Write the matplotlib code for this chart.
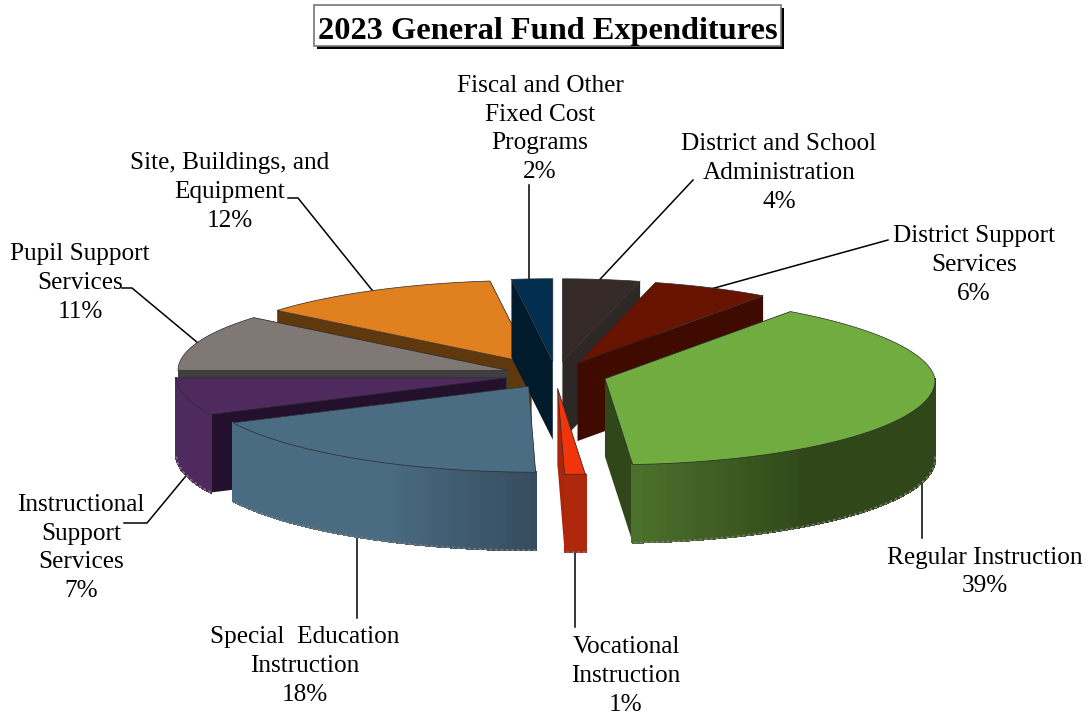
import numpy as np
import matplotlib
matplotlib.use("Agg")
import matplotlib.pyplot as plt
from matplotlib.collections import PolyCollection
from matplotlib.colors import to_rgb
from matplotlib.patches import Polygon, Rectangle

title = "2023 General Fund Expenditures"

# clockwise from 12 o'clock
names = ["District and School\nAdministration", "District Support\nServices",
         "Regular Instruction", "Vocational\nInstruction",
         "Special  Education\nInstruction", "Instructional\nSupport\nServices",
         "Pupil Support\nServices", "Site, Buildings, and\nEquipment",
         "Fiscal and Other\nFixed Cost\nPrograms"]
shares = [4, 6, 39, 1, 18, 7, 11, 12, 2]

top_colors = ["#352a28", "#681200", "#70ac40", "#f0350d", "#4a6d84",
              "#4f2a5f", "#807874", "#e0801e", "#022f50"]
wall_colors = ["#2d2725", "#3f0a00", "#2f4719", "#a8260a", "#4a6c82",
               "#23102c", "#3f3f3f", "#5f380d", "#011a2c"]
rim_light = ["#2d2725", "#3f0a00", "#4c722c", "#b0280b", "#4a6c82",
             "#4f2a5f", "#3f3f3f", "#5f380d", "#011a2c"]
rim_dark = ["#2d2725", "#3f0a00", "#2f4719", "#b0280b", "#364c5e",
            "#4f2a5f", "#3f3f3f", "#5f380d", "#011a2c"]
rim_stops = [(0, 1), (0, 1), (0, 0.6), (0, 1), (0.5, 1), (0, 1), (0, 1), (0, 1), (0, 1)]
draw_order = [7, 8, 0, 1, 6, 5, 2, 4, 3]

# pixel geometry of the pie
cx, cy = 556, 375
rx, ry = 330, 86
blow = 51
depth = 78

label_pos = [(779, 173), (974, 265), (985, 572), (626, 676), (305, 666),
             (81, 548), (80, 283), (230, 192), (540, 129)]
leaders = [[(693, 180), (590, 290)],
           [(888, 240), (700, 292)],
           [(922, 470), (922, 538)],
           [(575, 540), (575, 627)],
           [(357, 525), (357, 618)],
           [(195, 465), (147, 523), (124, 523)],
           [(122, 288), (132, 288), (210, 353)],
           [(288, 198), (298, 198), (380, 300)],
           [(529, 185), (529, 290)]]

plt.rcParams["font.family"] = ["Liberation Serif", "DejaVu Serif"]

fig = plt.figure(figsize=(10.89, 7.17), dpi=100)
ax = fig.add_axes([0, 0, 1, 1])
ax.set_xlim(0, 1089)
ax.set_ylim(717, 0)
ax.axis("off")


def rim_point(ox, oy, deg):
    t = np.radians(deg)
    s, c = np.sin(t), np.cos(t)
    # rough perspective: front leans right, back right quarter pulled in
    x = ox + rx * s + 7 * np.clip(-c, 0, 1) - 18 * np.clip(s, 0, 1) * np.clip(c, 0, 1)
    y = oy - ry * c + 3 * np.clip(c, 0, 1)
    return x, y


edges = np.cumsum([0] + shares) / sum(shares) * 360

# leader lines go under the pie
for line in leaders:
    xs, ys = zip(*line)
    ax.plot(xs, ys, color="black", lw=1.1, zorder=1)

for z, i in enumerate(draw_order):
    a0, a1 = edges[i], edges[i + 1]
    mid = np.radians((a0 + a1) / 2)
    ox = cx + blow * np.sin(mid)
    oy = cy - blow * ry / rx * np.cos(mid)
    zz = 2 + z

    # radial walls
    for a in (a0, a1):
        x, y = rim_point(ox, oy, a)
        ax.add_patch(Polygon([(ox, oy), (x, y), (x, y + depth), (ox, oy + depth)],
                             fc=wall_colors[i], ec="none", zorder=zz))

    # outer wall, front half only
    lo, hi = max(a0, 90), min(a1, 270)
    if hi > lo:
        ang = np.linspace(lo, hi, 60)
        xs, ys = rim_point(ox, oy, ang)
        quads = []
        cols = []
        c0, c1 = np.array(to_rgb(rim_light[i])), np.array(to_rgb(rim_dark[i]))
        s0, s1 = rim_stops[i]
        for k in range(len(ang) - 1):
            quads.append([(xs[k], ys[k]), (xs[k + 1], ys[k + 1]),
                          (xs[k + 1], ys[k + 1] + depth), (xs[k], ys[k] + depth)])
            pos = (xs[k] - xs.min()) / max(xs.max() - xs.min(), 1)
            m = np.clip((pos - s0) / (s1 - s0), 0, 1)
            cols.append(c0 + (c1 - c0) * m)
        ax.add_collection(PolyCollection(quads, facecolors=cols, edgecolors=cols,
                                         linewidths=1.0, antialiaseds=False, zorder=zz))
        ax.plot(xs, ys + depth, color="#777777", lw=1.3, ls=(0, (1.5, 1.5)), zorder=zz)

    # top face
    ang = np.linspace(a0, a1, 80)
    xs, ys = rim_point(ox, oy, ang)
    pts = [(ox, oy)] + list(zip(xs, ys))
    ax.add_patch(Polygon(pts, fc=top_colors[i], ec="#2a2a2a", lw=0.5, zorder=zz + 0.5))

for i in range(len(names)):
    ax.text(label_pos[i][0], label_pos[i][1], f"{names[i]}\n{shares[i]}%",
            ha="center", va="center", fontsize=18.2, linespacing=1.41,
            color="black", zorder=31)

# title box with shadow
ax.add_patch(Rectangle((317, 8), 467, 41, fc="black", ec="none", zorder=40))
ax.add_patch(Rectangle((314, 5), 467, 41, fc="white", ec="#777777", lw=1.2, zorder=41))
ax.text(548, 31, title, ha="center", va="center", fontsize=23.3, fontweight="bold",
        color="black", zorder=42)

fig.savefig("out.png", dpi=100)
